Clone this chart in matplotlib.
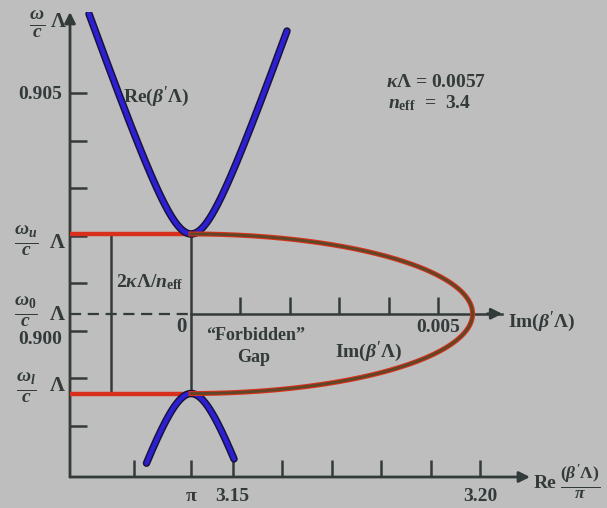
import numpy as np
import matplotlib
matplotlib.use("Agg")
import matplotlib.pyplot as plt
from matplotlib.transforms import blended_transform_factory

plt.rcParams['font.family'] = ['Liberation Serif', 'DejaVu Serif']
plt.rcParams['font.weight'] = 'bold'
plt.rcParams['mathtext.fontset'] = 'custom'
plt.rcParams['mathtext.rm'] = 'Liberation Serif:bold'
plt.rcParams['mathtext.it'] = 'Liberation Serif:italic:bold'
plt.rcParams['mathtext.bf'] = 'Liberation Serif:bold'

# Grating / waveguide parameters
kappa_lambda = 0.0057          # coupling constant times period
n_eff = 3.4                    # effective index
omega0 = 0.90036               # Bragg frequency, omega0*Lambda/c
beta_bragg = np.pi             # Re(beta' Lambda) at the Bragg condition

# Frequency reach (omega*Lambda/c) of the four propagating-band arms
upper_left_end = 0.90666
upper_right_end = 0.90630
lower_left_end = 0.89722
lower_right_end = 0.89731

# Axis ticks
freq_ticks = [0.898, 0.899, 0.900, 0.901, 0.902, 0.903, 0.904, 0.905]
freq_tick_labels = ['', '', '0.900', '', '', '', '', '0.905']
re_ticks = [3.13, np.pi, 3.15, 3.16, 3.17, 3.18, 3.19, 3.20]
re_tick_labels = ['', 'π', '3.15', '', '', '', '', '3.20']
im_ticks = [0.001, 0.002, 0.003, 0.004, 0.005]
im_tick_labels = ['', '', '', '', '0.005']

# Axis extents
re_xlim = (3.1171, 3.2101)
im_xlim = (-0.002449, 0.006862)
freq_ylim = (0.89693, 0.90670)
im_axis_end = 0.0063

half_gap = kappa_lambda / n_eff
omega_u = omega0 + half_gap
omega_l = omega0 - half_gap

ink = '#333a3a'
blue = '#2d20d2'
blue_edge = '#18123c'
red = '#d8301c'
olive = '#4a4a26'
paper = '#bdbebd'


def freq_from_re(offset, sign):
    """Band frequency for a given distance of Re(beta'Lambda) from pi."""
    return omega0 + sign * np.sqrt(offset ** 2 + kappa_lambda ** 2) / n_eff


def re_reach(w_end):
    return np.sqrt((n_eff * (w_end - omega0)) ** 2 - kappa_lambda ** 2)


t = np.linspace(0, 1, 300)

# propagating bands (outside the gap)
ul = re_reach(upper_left_end) * t[::-1]
ur = re_reach(upper_right_end) * t
upper_re = np.concatenate([beta_bragg - ul, beta_bragg + ur])
upper_w = np.concatenate([freq_from_re(ul, 1), freq_from_re(ur, 1)])

ll = re_reach(lower_left_end) * t[::-1]
lr = re_reach(lower_right_end) * t
lower_re = np.concatenate([beta_bragg - ll, beta_bragg + lr])
lower_w = np.concatenate([freq_from_re(ll, -1), freq_from_re(lr, -1)])

# evanescent solution inside the gap
theta = np.linspace(0, np.pi, 400)
gap_im = kappa_lambda * np.sin(theta)
gap_w = omega0 + kappa_lambda * np.cos(theta) / n_eff

W, H = 607, 508
fig = plt.figure(figsize=(W / 100, H / 100), dpi=100)
fig.patch.set_facecolor(paper)

ax = fig.add_axes([70 / W, 31 / H, 460 / W, 465 / H])
ax.set_facecolor(paper)
ax.set_xlim(*re_xlim)
ax.set_ylim(*freq_ylim)
for s in ax.spines.values():
    s.set_visible(False)

# main axes drawn as arrows
arrow = dict(arrowstyle='-|>', color=ink, lw=2.0, mutation_scale=16, shrinkA=0, shrinkB=0)
ax.annotate('', xy=(1, 0), xytext=(0, 0), xycoords='axes fraction', arrowprops=arrow)
ax.annotate('', xy=(0, 1), xytext=(0, 0), xycoords='axes fraction', arrowprops=arrow)

ax.set_xticks(re_ticks)
ax.set_xticklabels(re_tick_labels)
ax.set_yticks(freq_ticks)
ax.set_yticklabels(freq_tick_labels)
ax.tick_params(direction='in', length=12, width=1.8, color=ink, labelcolor=ink,
               labelsize=14, pad=6)
ax.tick_params(axis='x', pad=8, labelsize=14)
for lab, v in zip(ax.get_yticklabels(), freq_tick_labels):
    if v == '0.900':
        lab.set_va('top')

# dashed Bragg-frequency line and gap guide lines
ax.hlines(omega0, re_xlim[0], beta_bragg, colors=ink, lw=1.6, linestyles=(0, (5, 3)))
ax.vlines(beta_bragg, omega_l, omega_u, colors=ink, lw=1.8)
mixed = blended_transform_factory(ax.transAxes, ax.transData)
ax.vlines(0.089, omega_l, omega_u, colors=ink, lw=1.8, transform=mixed)

# band-edge lines
ax.hlines([omega_u, omega_l], re_xlim[0], beta_bragg, colors=red, lw=3.2, zorder=3)

# Re(beta' Lambda) branches
for xs, ys in ((upper_re, upper_w), (lower_re, lower_w)):
    ax.plot(xs, ys, color=blue_edge, lw=5.4, solid_capstyle='round', zorder=4)
    ax.plot(xs, ys, color=blue, lw=3.2, solid_capstyle='round', zorder=5)

# Im(beta' Lambda) axis sharing the frequency axis
ax2 = ax.twiny()
ax2.set_xlim(*im_xlim)
ax2.set_ylim(*freq_ylim)
ax2.patch.set_visible(False)
for name in ('top', 'left', 'right'):
    ax2.spines[name].set_visible(False)
ax2.spines['bottom'].set_position(('data', omega0))
ax2.spines['bottom'].set_bounds(0, im_axis_end)
ax2.spines['bottom'].set_color(ink)
ax2.spines['bottom'].set_linewidth(1.8)
ax2.xaxis.set_ticks_position('bottom')
ax2.set_xticks(im_ticks)
ax2.set_xticklabels(im_tick_labels)
ax2.tick_params(axis='x', direction='in', length=12, width=1.8, color=ink,
                labelcolor=ink, labelsize=14, pad=4)
ax2.annotate('', xy=(im_axis_end, omega0), xytext=(im_axis_end - 0.0003, omega0),
             xycoords='data', arrowprops=arrow)

ax2.plot(gap_im, gap_w, color=red, lw=3.6, zorder=3)
ax2.plot(gap_im, gap_w, color=olive, lw=2.0, alpha=0.85, zorder=4)


def fpos(x, y):
    return x / W, 1 - y / H


txt = dict(color=ink, fontweight='bold')
fig.text(*fpos(37, 24), r'$\frac{\omega}{c}$', fontsize=20, ha='center', va='center', **txt)
fig.text(*fpos(58, 22), 'Λ', fontsize=15, ha='center', va='center', **txt)
for lbl, yy, yl in ((r'$\frac{\omega_u}{c}$', 241, 243),
                    (r'$\frac{\omega_0}{c}$', 312, 315),
                    (r'$\frac{\omega_l}{c}$', 388, 386)):
    fig.text(*fpos(26, yy), lbl, fontsize=20, ha='center', va='center', **txt)
    fig.text(*fpos(57, yl), 'Λ', fontsize=15, ha='center', va='center', **txt)

fig.text(*fpos(123, 97), r"Re$(\beta'\Lambda)$", fontsize=14, ha='left', va='center', **txt)
fig.text(*fpos(116, 282), r'$2\kappa\Lambda/n_{\rm eff}$', fontsize=14, ha='left', va='center', **txt)
fig.text(*fpos(181, 327), '0', fontsize=15, ha='center', va='center', **txt)
fig.text(*fpos(256, 335), '“Forbidden”', fontsize=13, ha='center', va='center', **txt)
fig.text(*fpos(254, 357), 'Gap', fontsize=13, ha='center', va='center', **txt)
fig.text(*fpos(335, 352), r"Im$(\beta'\Lambda)$", fontsize=14, ha='left', va='center', **txt)
fig.text(*fpos(508, 322), r"Im$(\beta'\Lambda)$", fontsize=14, ha='left', va='center', **txt)
fig.text(*fpos(386, 83), r'$\kappa\Lambda$ = 0.0057', fontsize=14, ha='left', va='center', **txt)
fig.text(*fpos(388, 103), r'$n_{\rm eff}$  =  3.4', fontsize=14, ha='left', va='center', **txt)
fig.text(*fpos(534, 483), 'Re', fontsize=14, ha='left', va='center', **txt)
fig.text(*fpos(580, 482), r"$\frac{(\beta'\Lambda)}{\pi}$", fontsize=18, ha='center', va='center', **txt)

fig.savefig('out.png', dpi=100, facecolor=fig.get_facecolor())
